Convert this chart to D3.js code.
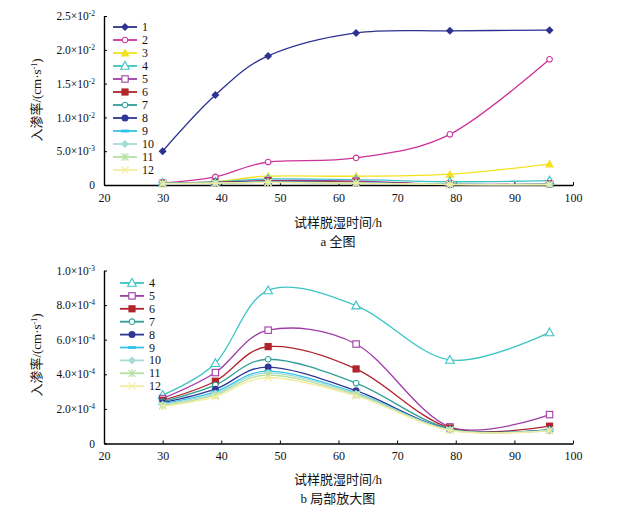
<!DOCTYPE html>
<html>
<head>
<meta charset="utf-8">
<script src="https://cdn.jsdelivr.net/npm/d3@7"></script>
<style>
  body { margin: 0; background: #fff; }
  svg text { font-family: "Liberation Serif", "Times New Roman", "Noto Sans CJK SC", serif; fill: #111; }
</style>
</head>
<body>
<div id="chart"></div>
<script>
// 脱湿时间 (h)
const hours = [30, 39, 48, 63, 79, 96];
const seriesNames = ["1", "2", "3", "4", "5", "6", "7", "8", "9", "10", "11", "12"];
// 入渗率 (cm/s)
const s1 = [5.0e-3, 13.3e-3, 19.1e-3, 22.5e-3, 22.8e-3, 22.9e-3];
const s2 = [0.3e-3, 1.2e-3, 3.4e-3, 4.0e-3, 7.5e-3, 18.6e-3];
const s3 = [0.2e-3, 0.5e-3, 1.3e-3, 1.3e-3, 1.6e-3, 3.1e-3];
const s4 = [2.8e-4, 4.64e-4, 8.85e-4, 7.97e-4, 4.83e-4, 6.42e-4];
const s5 = [2.6e-4, 4.1e-4, 6.55e-4, 5.75e-4, 0.96e-4, 1.67e-4];
const s6 = [2.5e-4, 3.6e-4, 5.6e-4, 4.31e-4, 0.9e-4, 1.0e-4];
const s7 = [2.42e-4, 3.38e-4, 4.87e-4, 3.49e-4, 0.85e-4, 0.8e-4];
const s8 = [2.35e-4, 3.14e-4, 4.42e-4, 3.05e-4, 0.82e-4, 0.78e-4];
const s9 = [2.3e-4, 2.99e-4, 4.18e-4, 2.93e-4, 0.8e-4, 0.77e-4];
const s10 = [2.25e-4, 2.88e-4, 4.08e-4, 2.88e-4, 0.79e-4, 0.76e-4];
const s11 = [2.2e-4, 2.8e-4, 3.96e-4, 2.82e-4, 0.78e-4, 0.75e-4];
const s12 = [2.15e-4, 2.7e-4, 3.8e-4, 2.75e-4, 0.76e-4, 0.74e-4];
const allSeries = [s1, s2, s3, s4, s5, s6, s7, s8, s9, s10, s11, s12];

const xTicks = [20, 30, 40, 50, 60, 70, 80, 90, 100];
const yTicksA = [0, 5e-3, 10e-3, 15e-3, 20e-3, 25e-3];
const yLabelsA = [["0", ""], ["5.0×10", "-3"], ["1.0×10", "-2"], ["1.5×10", "-2"], ["2.0×10", "-2"], ["2.5×10", "-2"]];
const yTicksB = [0, 2e-4, 4e-4, 6e-4, 8e-4, 10e-4];
const yLabelsB = [["0", ""], ["2.0×10", "-4"], ["4.0×10", "-4"], ["6.0×10", "-4"], ["8.0×10", "-4"], ["1.0×10", "-3"]];

const colors = ["#2e3192", "#cc3399", "#f2e21e", "#3cc4c4", "#a03ca8", "#b0242c",
                "#2f9e96", "#2e3796", "#33c3ea", "#a6dcd8", "#b6e0a4", "#f4eca0"];
const shapes = ["diamond", "ocircle", "triangle", "otriangle", "osquare", "square",
                "ocircle", "circle", "dash", "diamond", "asterisk", "cross"];

const svg = d3.select("#chart").append("svg")
    .attr("width", 628).attr("height", 517);

// 画标记
function drawMarker(g, shape, color) {
    switch (shape) {
        case "diamond":
            g.append("path").attr("d", "M0,-4L4,0L0,4L-4,0Z").attr("fill", color); break;
        case "ocircle":
            g.append("circle").attr("r", 2.8).attr("fill", "#fff").attr("stroke", color).attr("stroke-width", 1.1); break;
        case "circle":
            g.append("circle").attr("r", 3.5).attr("fill", color); break;
        case "triangle":
            g.append("path").attr("d", "M0,-4.5L4.5,3.5L-4.5,3.5Z").attr("fill", color); break;
        case "otriangle":
            g.append("path").attr("d", "M0,-4.5L4.3,3.3L-4.3,3.3Z").attr("fill", "#fff").attr("stroke", color).attr("stroke-width", 1.1); break;
        case "osquare":
            g.append("rect").attr("x", -3.2).attr("y", -3.2).attr("width", 6.4).attr("height", 6.4)
                .attr("fill", "#fff").attr("stroke", color).attr("stroke-width", 1.1); break;
        case "square":
            g.append("rect").attr("x", -3.6).attr("y", -3.6).attr("width", 7.2).attr("height", 7.2).attr("fill", color); break;
        case "dash":
            g.append("rect").attr("x", -4).attr("y", -1.4).attr("width", 8).attr("height", 2.8).attr("fill", color); break;
        case "asterisk":
            g.append("path").attr("d", "M-3.5,-3.5L3.5,3.5M-3.5,3.5L3.5,-3.5M0,-4V4")
                .attr("stroke", color).attr("stroke-width", 1.2); break;
        case "cross":
            g.append("path").attr("d", "M-3.5,-3.5L3.5,3.5M-3.5,3.5L3.5,-3.5")
                .attr("stroke", color).attr("stroke-width", 1.2); break;
    }
}

function yLabel(sel, parts) {
    sel.text("");
    sel.append("tspan").text(parts[0]);
    if (parts[1]) {
        sel.append("tspan").attr("dy", -4).attr("font-size", 7.5).text(parts[1]);
    }
}

function drawPanel(p) {
    const x = d3.scaleLinear().domain([20, 100]).range([104, 573]);
    const y = d3.scaleLinear().domain(p.yDomain).range(p.yRange);
    const g = svg.append("g");

    // X axis
    const xAxis = g.append("g")
        .attr("transform", "translate(0," + p.yRange[0] + ")")
        .call(d3.axisBottom(x).tickValues(xTicks).tickSizeInner(-3).tickSizeOuter(0).tickPadding(8));
    xAxis.select(".domain").attr("stroke", "#000").attr("stroke-width", 1.4);
    xAxis.selectAll("text").attr("font-size", 12);

    // Y axis
    const yAxis = g.append("g")
        .attr("transform", "translate(104,0)")
        .call(d3.axisLeft(y).tickValues(p.yTicks).tickSizeInner(-3).tickSizeOuter(0).tickPadding(9));
    yAxis.select(".domain").attr("stroke", "#000").attr("stroke-width", 1.4);
    yAxis.selectAll("text").attr("font-size", 11.5)
        .each(function (d, i) { yLabel(d3.select(this), p.yLabels[i]); });

    // 曲线
    const line = d3.line()
        .x((d, i) => x(hours[i]))
        .y(d => y(d))
        .curve(d3.curveCardinal.tension(0));

    p.series.forEach(k => {
        g.append("path")
            .attr("d", line(allSeries[k]))
            .attr("fill", "none")
            .attr("stroke", colors[k])
            .attr("stroke-width", 1.3);
        allSeries[k].forEach((v, i) => {
            const m = g.append("g").attr("transform", "translate(" + x(hours[i]) + "," + y(v) + ")");
            drawMarker(m, shapes[k], colors[k]);
        });
    });

    // 图例
    p.series.forEach((k, j) => {
        const ly = p.legend.y + j * p.legend.step;
        g.append("line")
            .attr("x1", p.legend.x).attr("x2", p.legend.x + 24)
            .attr("y1", ly).attr("y2", ly)
            .attr("stroke", colors[k]).attr("stroke-width", 1.8);
        const m = g.append("g").attr("transform", "translate(" + (p.legend.x + 12) + "," + ly + ")");
        drawMarker(m, shapes[k], colors[k]);
        g.append("text")
            .attr("x", p.legend.x + 29).attr("y", ly + 4)
            .attr("font-size", 12)
            .text(seriesNames[k]);
    });

    // y 轴标题
    const yt = g.append("text")
        .attr("transform", "translate(41," + p.yTitleY + ") rotate(-90)")
        .attr("text-anchor", "middle")
        .attr("font-size", 13);
    yt.append("tspan").text("入渗率/(cm·s");
    yt.append("tspan").attr("dy", -4).attr("font-size", 8).text("-1");
    yt.append("tspan").attr("dy", 4).text(")");

    // x 轴标题
    g.append("text")
        .attr("x", 338).attr("y", p.xTitleY).attr("text-anchor", "middle")
        .attr("font-size", 13).text("试样脱湿时间/h");
    g.append("text")
        .attr("x", 338).attr("y", p.xTitleY + 19).attr("text-anchor", "middle")
        .attr("font-size", 13).text(p.caption);
}

drawPanel({
    yDomain: [0, 0.025], yRange: [185, 16],
    yTicks: yTicksA, yLabels: yLabelsA,
    series: d3.range(0, 12),
    legend: { x: 113, y: 27, step: 13 },
    yTitleY: 100, xTitleY: 227, caption: "a 全图"
});

drawPanel({
    yDomain: [0, 1e-3], yRange: [443.5, 270.5],
    yTicks: yTicksB, yLabels: yLabelsB,
    series: d3.range(3, 12),
    legend: { x: 120, y: 283, step: 12.9 },
    yTitleY: 355, xTitleY: 484, caption: "b 局部放大图"
});
</script>
</body>
</html>
